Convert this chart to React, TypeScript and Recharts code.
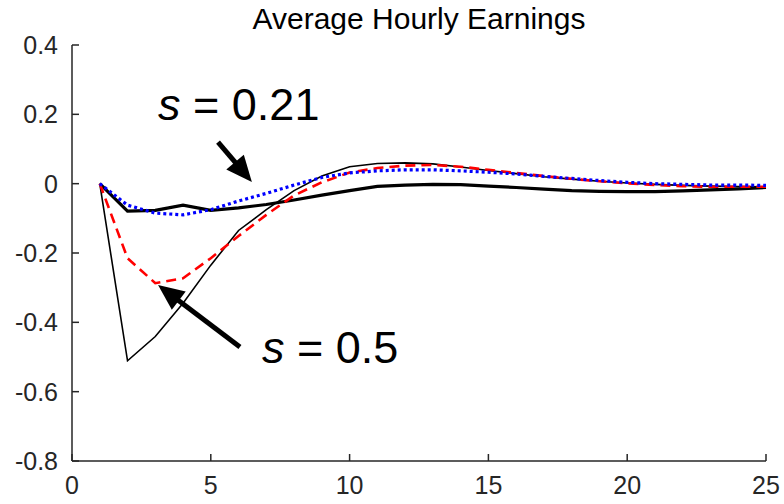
import { Line, LineChart, ReferenceDot, ReferenceLine, XAxis, YAxis } from "recharts";

// Impulse responses, one value per period.
const PERIODS = [1, 2, 3, 4, 5, 6, 7, 8, 9, 10, 11, 12, 13, 14, 15, 16, 17, 18, 19, 20, 21, 22, 23, 24, 25];
const THICK_BLACK = [0, -0.079, -0.077, -0.062, -0.077, -0.07, -0.06, -0.047, -0.033, -0.02, -0.008, -0.004, -0.002, -0.003, -0.007, -0.011, -0.016, -0.02, -0.022, -0.023, -0.023, -0.021, -0.018, -0.015, -0.011];
const THIN_BLACK = [0, -0.511, -0.441, -0.345, -0.235, -0.135, -0.075, -0.02, 0.022, 0.049, 0.058, 0.06, 0.057, 0.048, 0.038, 0.029, 0.02, 0.013, 0.007, 0.002, -0.002, -0.005, -0.007, -0.008, -0.009];
const RED_DASHED = [0, -0.215, -0.287, -0.273, -0.215, -0.151, -0.09, -0.034, 0.004, 0.032, 0.045, 0.052, 0.054, 0.049, 0.04, 0.031, 0.022, 0.014, 0.007, 0.001, -0.004, -0.007, -0.009, -0.009, -0.009];
const BLUE_DOTTED = [0, -0.062, -0.085, -0.09, -0.075, -0.05, -0.028, -0.004, 0.018, 0.031, 0.037, 0.04, 0.04, 0.037, 0.033, 0.028, 0.021, 0.015, 0.009, 0.004, 0, -0.002, -0.004, -0.004, -0.005];

const X_TICKS = [0, 5, 10, 15, 20, 25];
const Y_TICKS = [-0.8, -0.6, -0.4, -0.2, 0, 0.2, 0.4];

// Annotations: label anchor plus an arrow from tail to tip, in data units.
const NOTES = [
  { value: "0.21", textX: 3.1, textY: 0.184, tailX: 5.26, tailY: 0.12, tipX: 6.48, tipY: 0.005 },
  { value: "0.5", textX: 6.84, textY: -0.516, tailX: 6.05, tailY: -0.471, tipX: 3.1, tipY: -0.292 },
];

const FONT = "'Liberation Sans', Arial, Helvetica, sans-serif";
const AXIS = "#262626";

const data = PERIODS.map((p, i) => ({
  period: p,
  thick: THICK_BLACK[i],
  thin: THIN_BLACK[i],
  red: RED_DASHED[i],
  blue: BLUE_DOTTED[i],
}));

function Arrow(props: any) {
  const { x1, y1, x2, y2 } = props;
  const dx = x2 - x1;
  const dy = y2 - y1;
  const len = Math.hypot(dx, dy) || 1;
  const ux = dx / len;
  const uy = dy / len;
  const head = 26;
  const half = 11.5;
  const bx = x2 - ux * head;
  const by = y2 - uy * head;
  return (
    <g>
      <line x1={x1} y1={y1} x2={bx + ux * 2} y2={by + uy * 2} stroke="#000" strokeWidth={5} />
      <polygon
        points={`${x2},${y2} ${bx - uy * half},${by + ux * half} ${bx + uy * half},${by - ux * half}`}
        fill="#000"
      />
    </g>
  );
}

function NoteText({ cx, cy, value }: any) {
  return (
    <text x={cx} y={cy} fontFamily={FONT} fontSize={45} fill="#000">
      <tspan fontStyle="italic">s</tspan>
      <tspan> = {value}</tspan>
    </text>
  );
}

export default function App() {
  return (
    <div style={{ position: "absolute", left: 0, top: 0, width: 784, height: 504, background: "#fff" }}>
      <div
        style={{
          position: "absolute",
          left: 72,
          width: 694,
          top: 2,
          textAlign: "center",
          fontFamily: FONT,
          fontSize: 30,
          color: "#000",
        }}
      >
        Average Hourly Earnings
      </div>
      <LineChart width={784} height={504} data={data} margin={{ top: 45, right: 18, left: 0, bottom: 0 }}>
        <XAxis
          dataKey="period"
          type="number"
          domain={[0, 25]}
          ticks={X_TICKS}
          height={43}
          tickSize={-7}
          tickMargin={22}
          stroke={AXIS}
          strokeWidth={1.5}
          tick={{ fill: AXIS, fontSize: 25, fontFamily: FONT }}
        />
        <YAxis
          type="number"
          domain={[-0.8, 0.4]}
          ticks={Y_TICKS}
          width={72}
          tickSize={-7}
          tickMargin={21}
          stroke={AXIS}
          strokeWidth={1.5}
          tickFormatter={(v: number) => (v === 0 ? "0" : v.toFixed(1))}
          tick={{ fill: AXIS, fontSize: 25, fontFamily: FONT }}
        />
        <Line dataKey="thin" stroke="#000" strokeWidth={1.6} dot={false} isAnimationActive={false} />
        <Line dataKey="thick" stroke="#000" strokeWidth={3.2} dot={false} isAnimationActive={false} />
        <Line dataKey="red" stroke="#ff0000" strokeWidth={2.6} strokeDasharray="10 6" dot={false} isAnimationActive={false} />
        <Line dataKey="blue" stroke="#0000ff" strokeWidth={3.2} strokeDasharray="3 3" dot={false} isAnimationActive={false} />
        {NOTES.map((n) => (
          <ReferenceLine
            key={`arrow-${n.value}`}
            segment={[
              { x: n.tailX, y: n.tailY },
              { x: n.tipX, y: n.tipY },
            ]}
            shape={Arrow}
            ifOverflow="visible"
          />
        ))}
        {NOTES.map((n) => (
          <ReferenceDot
            key={`text-${n.value}`}
            x={n.textX}
            y={n.textY}
            ifOverflow="visible"
            shape={(p: any) => <NoteText {...p} value={n.value} />}
          />
        ))}
      </LineChart>
    </div>
  );
}
